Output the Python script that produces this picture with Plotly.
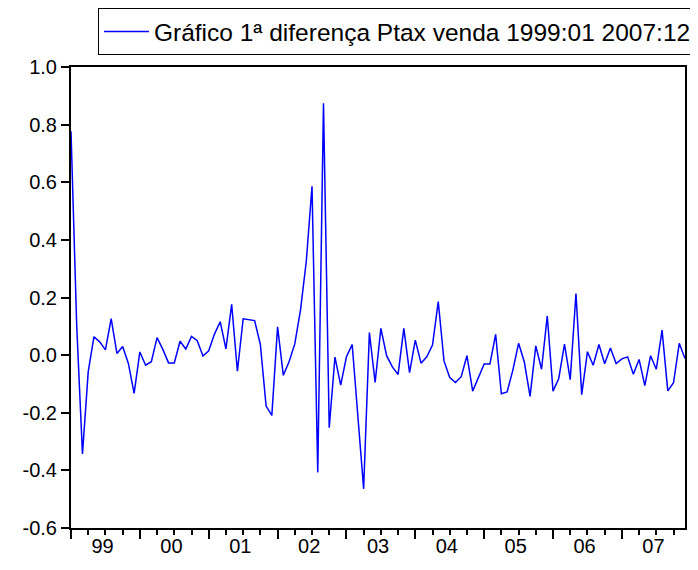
import plotly.graph_objects as go

# monthly first difference of Ptax (sell), 1999:01 .. 2007:12
years = ["99", "00", "01", "02", "03", "04", "05", "06", "07"]
dptax = [
    0.777, 0.099, -0.343, -0.058, 0.064, 0.046, 0.018, 0.127, 0.006, 0.030, -0.029, -0.133,
    0.011, -0.035, -0.023, 0.061, 0.020, -0.027, -0.027, 0.048, 0.021, 0.065, 0.050, -0.003,
    0.015, 0.073, 0.116, 0.022, 0.176, -0.056, 0.126, 0.122, 0.120, 0.037, -0.177, -0.209,
    0.098, -0.070, -0.023, 0.039, 0.157, 0.325, 0.586, -0.407, 0.874, -0.252, -0.007, -0.104,
    -0.006, 0.037, -0.215, -0.464, 0.078, -0.095, 0.093, -0.002, -0.041, -0.067, 0.093, -0.061,
    0.052, -0.028, -0.006, 0.035, 0.186, -0.020, -0.078, -0.095, -0.075, -0.002, -0.125, -0.078,
    -0.031, -0.031, 0.072, -0.134, -0.128, -0.052, 0.041, -0.024, -0.143, 0.032, -0.049, 0.136,
    -0.125, -0.081, 0.038, -0.085, 0.214, -0.137, 0.012, -0.035, 0.037, -0.030, 0.025, -0.029,
    -0.013, -0.006, -0.066, -0.015, -0.106, -0.002, -0.049, 0.087, -0.124, -0.096, 0.041, -0.012,
]
y_ticks = [1.0, 0.8, 0.6, 0.4, 0.2, 0.0, -0.2, -0.4, -0.6]
y_labels = ["1.0", "0.8", "0.6", "0.4", "0.2", "0.0", "-0.2", "-0.4", "-0.6"]
series_name = "Gráfico 1ª diferença Ptax venda 1999:01 2007:12"

months = list(range(len(dptax)))
year_starts = [12 * k for k in range(len(years))]
year_mids = [12 * k + 5.5 for k in range(len(years))]

FONT = "Arial, Liberation Sans, sans-serif"

fig = go.Figure()
fig.add_trace(
    go.Scatter(
        x=months,
        y=dptax,
        mode="lines",
        name=series_name,
        line=dict(color="#0000ff", width=1.5),
    )
)
# carrier for the year label axis
fig.add_trace(
    go.Scatter(
        x=[0, months[-1]],
        y=[None, None],
        xaxis="x2",
        mode="lines",
        showlegend=False,
        hoverinfo="skip",
    )
)

# page body adds an 8px offset, so the figure is 8px smaller than the window
fig.update_layout(
    width=690,
    height=562,
    margin=dict(l=63, r=13, t=59, b=42, autoexpand=False),
    paper_bgcolor="white",
    plot_bgcolor="white",
    font=dict(family=FONT, size=20, color="black"),
    showlegend=True,
    legend=dict(
        x=1.0195,
        xanchor="right",
        y=1.128,
        yanchor="top",
        bordercolor="black",
        borderwidth=1,
        bgcolor="white",
        itemwidth=45,
        font=dict(family=FONT, size=24.5, color="black"),
        tracegroupgap=0,
    ),
    xaxis=dict(
        range=[0, months[-1]],
        tickvals=year_starts,
        showticklabels=False,
        ticks="outside",
        ticklen=9,
        tickwidth=1.5,
        tickcolor="black",
        minor=dict(dtick=3, tick0=0, ticks="outside", ticklen=5, tickwidth=1.5, tickcolor="black"),
        showgrid=False,
        zeroline=False,
        showline=True,
        linecolor="black",
        linewidth=2,
        mirror=True,
        fixedrange=True,
        automargin=False,
    ),
    xaxis2=dict(
        range=[0, months[-1]],
        overlaying="x",
        anchor="y",
        side="bottom",
        tickvals=year_mids,
        ticktext=years,
        ticks="",
        ticklabelstandoff=4,
        showgrid=False,
        zeroline=False,
        showline=False,
        automargin=False,
        tickfont=dict(family=FONT, size=20, color="black"),
    ),
    yaxis=dict(
        range=[-0.6, 1.0],
        tickvals=y_ticks,
        ticktext=y_labels,
        ticks="outside",
        ticklen=8,
        tickwidth=1.5,
        tickcolor="black",
        showgrid=False,
        zeroline=False,
        showline=True,
        linecolor="black",
        linewidth=2,
        mirror=True,
        fixedrange=True,
        automargin=False,
        tickfont=dict(family=FONT, size=20, color="black"),
    ),
)

fig.write_html("out.html")
